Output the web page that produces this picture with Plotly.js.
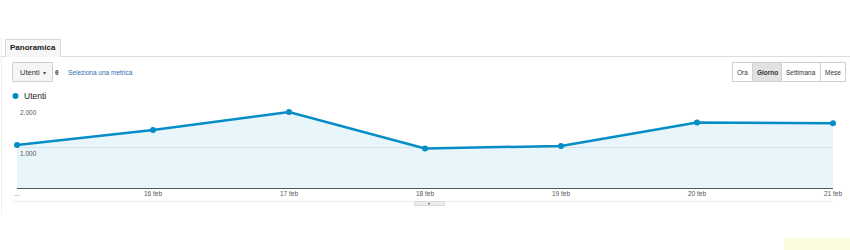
<!DOCTYPE html>
<html><head><meta charset="utf-8">
<script src="https://cdn.plot.ly/plotly-3.0.1.min.js"></script>
<style>html,body{margin:0;padding:0;background:#fff;}#c{width:850px;height:250px;}</style>
</head><body><div id="c"></div>
<script>
const dates = ["15 feb","16 feb","17 feb","18 feb","19 feb","20 feb","21 feb"];
const tickText = ["...","16 feb","17 feb","18 feb","19 feb","20 feb","21 feb"];
const utenti = [1050, 1415, 1855, 965, 1025, 1595, 1580];
const yTickVals = [1000, 2000];
const yTickText = ["1.000", "2.000"];
const periodButtons = ["Ora", "Giorno", "Settimana", "Mese"];

const W = 850, H = 250;
const px = x => x / W, py = y => 1 - y / H;
const FONT = "Liberation Sans, Arial, sans-serif";

const shapes = [];
const ann = [];
// top tab line
shapes.push({type:'line', xref:'paper', yref:'paper', x0:0, x1:1, y0:py(56.5), y1:py(56.5), line:{color:'#dddddd', width:1}});
// Panoramica tab
shapes.push({type:'rect', xref:'paper', yref:'paper', x0:px(5.5), x1:px(60.5), y0:py(56.5), y1:py(39.5), line:{color:'#d6d6d6', width:1}, fillcolor:'#f7f7f7'});
shapes.push({type:'line', xref:'paper', yref:'paper', x0:px(6), x1:px(60), y0:py(56.5), y1:py(56.5), line:{color:'#f7f7f7', width:1}});
ann.push({xref:'paper', yref:'paper', x:px(33), y:py(48), text:'<b>Panoramica</b>', showarrow:false, font:{family:FONT, size:8, color:'#222'}, xanchor:'center', yanchor:'middle'});
// dropdown
shapes.push({type:'rect', xref:'paper', yref:'paper', x0:px(12.5), x1:px(52.5), y0:py(81.5), y1:py(62.5), line:{color:'#d0d0d0', width:1}, fillcolor:'#f5f5f5'});
ann.push({xref:'paper', yref:'paper', x:px(18), y:py(72), text:'Utenti', showarrow:false, font:{family:FONT, size:7.5, color:'#333'}, xanchor:'left', yanchor:'middle'});
ann.push({xref:'paper', yref:'paper', x:px(44), y:py(72.5), text:'▾', showarrow:false, font:{family:FONT, size:6, color:'#555'}, xanchor:'center', yanchor:'middle'});
ann.push({xref:'paper', yref:'paper', x:px(57), y:py(72), text:'<b>θ</b>', showarrow:false, font:{family:FONT, size:6.5, color:'#444'}, xanchor:'center', yanchor:'middle'});
ann.push({xref:'paper', yref:'paper', x:px(66), y:py(72), text:'Seleziona una metrica', showarrow:false, font:{family:FONT, size:6.5, color:'#2a6fae'}, xanchor:'left', yanchor:'middle'});
// period buttons
const bEdges = [732.5, 752.5, 781.5, 820.5, 845.5];
shapes.push({type:'rect', xref:'paper', yref:'paper', x0:px(bEdges[1]), x1:px(bEdges[2]), y0:py(81.5), y1:py(62.5), line:{width:0}, fillcolor:'#e2e2e2'});
shapes.push({type:'rect', xref:'paper', yref:'paper', x0:px(bEdges[0]), x1:px(bEdges[4]), y0:py(81.5), y1:py(62.5), line:{color:'#d0d0d0', width:1}, fillcolor:'rgba(0,0,0,0)'});
for (let i = 1; i < 4; i++) shapes.push({type:'line', xref:'paper', yref:'paper', x0:px(bEdges[i]), x1:px(bEdges[i]), y0:py(81.5), y1:py(62.5), line:{color:'#d0d0d0', width:1}});
periodButtons.forEach((b, i) => ann.push({xref:'paper', yref:'paper', x:px((bEdges[i]+bEdges[i+1])/2), y:py(72), text: i===1 ? '<b>'+b+'</b>' : b, showarrow:false, font:{family:FONT, size:6.5, color:'#333'}, xanchor:'center', yanchor:'middle'}));
// legend
shapes.push({type:'circle', xref:'paper', yref:'paper', x0:px(12.5), x1:px(18.5), y0:py(93), y1:py(99), line:{width:0}, fillcolor:'#058dc7'});
ann.push({xref:'paper', yref:'paper', x:px(22), y:py(96), text:'Utenti', showarrow:false, font:{family:FONT, size:8.5, color:'#222'}, xanchor:'left', yanchor:'middle'});
// bottom line and toggle
shapes.push({type:'line', xref:'paper', yref:'paper', x0:px(13), x1:px(833), y0:py(201.5), y1:py(201.5), line:{color:'#eeeeee', width:1}});
shapes.push({type:'rect', xref:'paper', yref:'paper', x0:px(414.5), x1:px(444.5), y0:py(205.5), y1:py(201.5), line:{color:'#d8d8d8', width:1}, fillcolor:'#eeeeee'});
ann.push({xref:'paper', yref:'paper', x:px(429.5), y:py(203.5), text:'▾', showarrow:false, font:{family:FONT, size:4, color:'#555'}, xanchor:'center', yanchor:'middle'});
// yellow box bottom right
shapes.push({type:'rect', xref:'paper', yref:'paper', x0:px(784), x1:px(850), y0:py(250), y1:py(238), line:{width:0}, fillcolor:'#fbfbe0'});
// left faint border
shapes.push({type:'line', xref:'paper', yref:'paper', x0:px(1.5), x1:px(1.5), y0:py(38), y1:py(215), line:{color:'#f0f0f0', width:1}});
// y tick labels inside plot
yTickVals.forEach((v, i) => ann.push({xref:'paper', yref:'y', x:px(18), y:v, yshift:-1, text:yTickText[i], showarrow:false, font:{family:FONT, size:6.5, color:'#555'}, xanchor:'left', yanchor:'top'}));

const trace = {
  type:'scatter', mode:'lines+markers', x:dates, y:utenti,
  line:{color:'#058dc7', width:2.5}, marker:{color:'#058dc7', size:6},
  fill:'tozeroy', fillcolor:'rgba(5,141,199,0.09)', cliponaxis:false, hoverinfo:'none'
};

const layout = {
  width:W, height:H, margin:{l:0, r:0, t:0, b:0},
  paper_bgcolor:'#fff', plot_bgcolor:'rgba(0,0,0,0)', showlegend:false,
  xaxis:{type:'category', domain:[px(17), px(833)], range:[0, 6], tickvals:dates, ticktext:tickText,
    showgrid:false, zeroline:false, showline:false, ticks:'', ticklen:0,
    tickfont:{family:FONT, size:6.5, color:'#555'}, anchor:'y', fixedrange:true},
  yaxis:{domain:[py(188), py(106)], range:[0, 2000], tickvals:yTickVals, showticklabels:false,
    showgrid:true, gridcolor:'#eaeaea', gridwidth:1, zeroline:true, zerolinecolor:'#555', zerolinewidth:1,
    showline:false, ticks:'', fixedrange:true},
  shapes:shapes, annotations:ann
};
Plotly.newPlot('c', [trace], layout, {displayModeBar:false, staticPlot:true});
</script></body></html>
